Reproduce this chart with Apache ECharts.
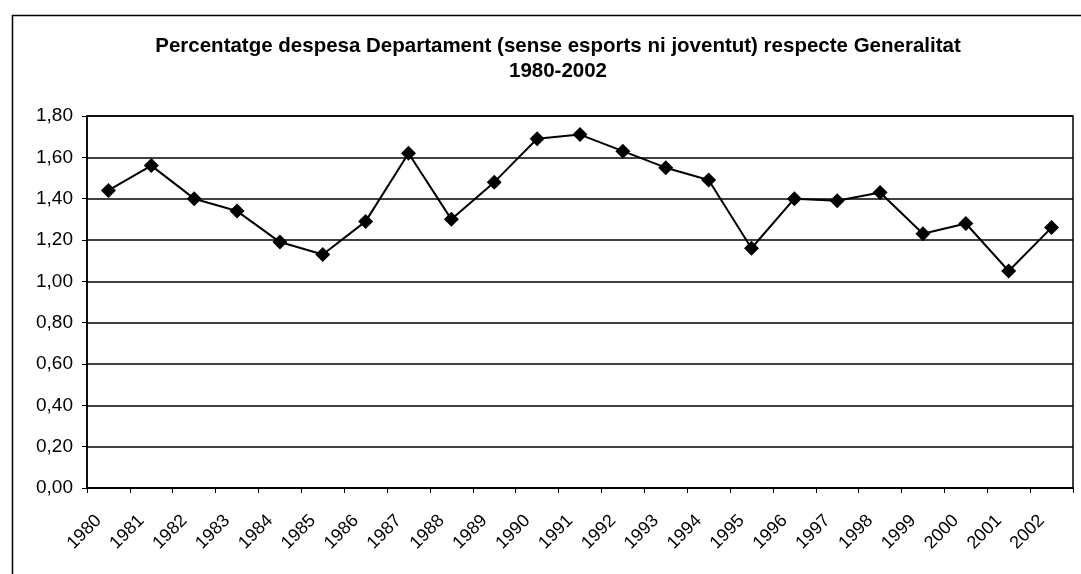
<!DOCTYPE html>
<html>
<head>
<meta charset="utf-8">
<script src="https://cdn.jsdelivr.net/npm/echarts@6/dist/echarts.min.js"></script>
<style>
  html, body { margin: 0; padding: 0; background: #fff; }
  #chart { width: 1081px; height: 574px; }
</style>
</head>
<body>
<div id="chart"></div>
<script>
// anys (eix x)
const years = ['1980', '1981', '1982', '1983', '1984', '1985', '1986', '1987', '1988', '1989', '1990', '1991',
  '1992', '1993', '1994', '1995', '1996', '1997', '1998', '1999', '2000', '2001', '2002']
// percentatge de despesa respecte Generalitat
const percentatge = [1.44, 1.56, 1.40, 1.34, 1.19, 1.13, 1.29, 1.62, 1.30, 1.48, 1.69, 1.71,
  1.63, 1.55, 1.49, 1.16, 1.40, 1.39, 1.43, 1.23, 1.28, 1.05, 1.26]
const titleLines = ['Percentatge despesa Departament (sense esports ni joventut) respecte Generalitat', '1980-2002']

const font = '"Liberation Sans", Arial, sans-serif'
const myEcharts = echarts.init(document.getElementById('chart'))
const options = {
  animation: false,
  backgroundColor: '#fff',
  title: {
    text: titleLines.join('\n'),
    left: 553,
    top: 29,
    textAlign: 'center',
    textStyle: {
      fontFamily: font,
      fontWeight: 'bold',
      fontSize: 20.5,
      lineHeight: 25,
      color: '#000'
    }
  },
  // marc exterior del gràfic
  graphic: [
    {
      type: 'rect',
      left: 10,
      top: 13,
      shape: { width: 1100, height: 620 },
      style: { fill: 'none', stroke: '#000', lineWidth: 1.5 },
      silent: true
    }
  ],
  grid: {
    left: 87,
    right: 8,
    top: 116,
    bottom: 86,
    show: true,
    borderColor: '#000',
    borderWidth: 1.5
  },
  xAxis: {
    type: 'category',
    data: years,
    boundaryGap: true,
    axisLine: { lineStyle: { color: '#000', width: 1.5 } },
    axisTick: { show: true, length: 5, inside: false, lineStyle: { color: '#000' } },
    axisLabel: {
      rotate: 45,
      margin: 20,
      padding: [0, 14, 0, 0],
      color: '#000',
      fontFamily: font,
      fontSize: 18,
      interval: 0
    }
  },
  yAxis: {
    type: 'value',
    min: 0,
    max: 1.8,
    interval: 0.2,
    axisLine: { show: true, lineStyle: { color: '#000', width: 1.5 } },
    axisTick: { show: true, length: 5, lineStyle: { color: '#000' } },
    splitLine: { lineStyle: { color: '#000', width: 1.5 } },
    axisLabel: {
      margin: 14,
      color: '#000',
      fontFamily: font,
      fontSize: 19,
      formatter: v => v.toFixed(2).replace('.', ',')
    }
  },
  series: [
    {
      type: 'line',
      data: percentatge,
      symbol: 'diamond',
      symbolSize: 15,
      lineStyle: { color: '#000', width: 2 },
      itemStyle: { color: '#000' }
    }
  ]
}
myEcharts.setOption(options)
</script>
</body>
</html>
